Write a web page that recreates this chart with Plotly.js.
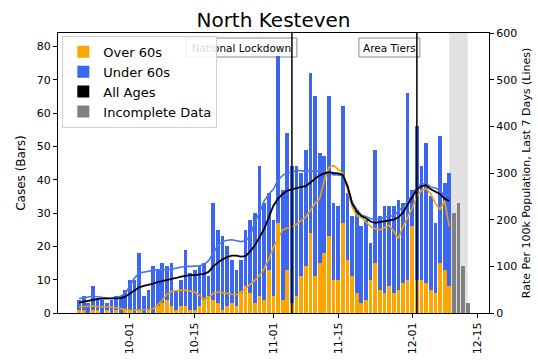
<!DOCTYPE html>
<html>
<head>
<meta charset="utf-8">
<script src="https://cdn.plot.ly/plotly-3.0.1.min.js"></script>
<style>html,body{margin:0;padding:0;background:#fff;}#chart{width:538px;height:361px;}</style>
</head>
<body>
<div id="chart"></div>
<script>
// Daily dates with complete data (Sep 20 - Dec 9, 2020)
const dates = [
 '2020-09-20','2020-09-21','2020-09-22','2020-09-23','2020-09-24','2020-09-25','2020-09-26','2020-09-27','2020-09-28','2020-09-29','2020-09-30',
 '2020-10-01','2020-10-02','2020-10-03','2020-10-04','2020-10-05','2020-10-06','2020-10-07','2020-10-08','2020-10-09','2020-10-10',
 '2020-10-11','2020-10-12','2020-10-13','2020-10-14','2020-10-15','2020-10-16','2020-10-17','2020-10-18','2020-10-19','2020-10-20',
 '2020-10-21','2020-10-22','2020-10-23','2020-10-24','2020-10-25','2020-10-26','2020-10-27','2020-10-28','2020-10-29','2020-10-30','2020-10-31',
 '2020-11-01','2020-11-02','2020-11-03','2020-11-04','2020-11-05','2020-11-06','2020-11-07','2020-11-08','2020-11-09','2020-11-10',
 '2020-11-11','2020-11-12','2020-11-13','2020-11-14','2020-11-15','2020-11-16','2020-11-17','2020-11-18','2020-11-19','2020-11-20',
 '2020-11-21','2020-11-22','2020-11-23','2020-11-24','2020-11-25','2020-11-26','2020-11-27','2020-11-28','2020-11-29','2020-11-30',
 '2020-12-01','2020-12-02','2020-12-03','2020-12-04','2020-12-05','2020-12-06','2020-12-07','2020-12-08','2020-12-09'
];
// Cases aged over 60 (bars, bottom of stack)
const over60 = [1,1,0,1,1,0,1,0,1,0,1, 1,0,1,0,1,0,2,3,4,2, 1,2,2,1,1,2,4,5,4,3, 1,2,3,2,6,8,6,3,5,4,13,
 5,27,4,13,3,5,11,14,24,11, 15,18,23,10,10,27,16,11,6,3, 4,10,15,7,6,8,6,7,9,10, 26,10,10,9,7,6,15,13,8];
// Cases aged under 60 (bars, stacked on top)
const under60 = [3,4,3,7,3,4,2,4,4,5,6, 9,10,17,5,6,14,11,12,10,13, 6,8,17,11,12,12,11,6,29,22, 22,18,13,11,10,17,22,27,39,29,23,
 23,50,33,41,41,39,31,35,48,54, 33,29,42,23,22,35,20,18,25,23, 24,11,34,22,26,24,26,27,24,56, 11,46,34,42,28,21,38,26,34];
// Incomplete data (grey bars)
const incompleteDates = ['2020-12-10','2020-12-11','2020-12-12','2020-12-13'];
const incompleteCases = [30,33,14,3];
// 7-day rates per 100k (lines)
const rateAll = [22,24,26,29,30,31,31,31,31,32,35, 42,48,55,58,60,63,66,68,71,73, 75,78,80,81,81,82,84,88,100,108, 115,120,123,123,121,122,132,145,162,180,205,
 230,245,255,262,265,268,270,272,280,289, 295,299,302,300,299,296,272,235,218,208, 203,196,193,195,197,198,200,205,215,232, 250,265,272,274,265,260,255,245,240];
const rateUnder60 = [31,33,35,36,35,33,32,31,33,36,42, 60,75,86,88,90,92,93,92,92,94, 96,98,100,100,100,101,104,112,128,145, 153,156,157,155,153,155,165,195,215,240,255,
 265,285,295,300,302,305,305,303,305,303, 305,303,300,296,296,294,275,238,222,210, 207,202,200,202,205,208,208,218,228,238, 255,270,276,278,270,268,262,250,255];
const rateOver60 = [13,14,14,15,14,14,13,13,11,9,7, 6,6,6,6,7,9,17,28,40,46, 48,49,49,47,45,38,30,33,42,45, 44,42,40,39,45,53,60,70,80,95,115,
 140,160,178,182,185,190,198,206,220,235, 245,285,312,316,308,300,265,228,208,205, 195,185,180,178,183,188,175,160,185,205, 225,250,262,267,255,235,222,240,185];
// Events
const eventDates = ['2020-11-05','2020-12-02'];
const eventLabels = ['National Lockdown','Area Tiers'];
const shadeRange = ['2020-12-09','2020-12-13'];
const xTicks = ['2020-10-01','2020-10-15','2020-11-01','2020-11-15','2020-12-01','2020-12-15'];

const ORANGE = '#FFA500', BLUE = '#3a66f2', FONT = 'DejaVu Sans, sans-serif';
const W = 538, H = 361, M = {l:58, r:49, t:33, b:48};
const xRange = ['2020-09-15 11:00','2020-12-17 14:00'];

// convert a pixel offset to a date offset along the x axis (for label boxes)
const toMs = s => Date.parse(s.replace(' ', 'T') + (s.length > 10 ? ':00Z' : 'T00:00:00Z'));
const msPerPx = (toMs(xRange[1]) - toMs(xRange[0])) / (W - M.l - M.r);
const shiftPx = (d, px) => new Date(toMs(d) + px * msPerPx).toISOString().slice(0,19).replace('T',' ');
const plotH = H - M.t - M.b;

const traces = [
  {type:'bar', x:dates, y:over60, name:'Over 60s', marker:{color:ORANGE, line:{width:0}}, yaxis:'y'},
  {type:'bar', x:dates, y:under60, name:'Under 60s', marker:{color:BLUE, line:{width:0}}, yaxis:'y'},
  // legend entry for the All Ages line (drawn as a patch, like the reference)
  {type:'bar', x:[dates[0]], y:[0], name:'All Ages', marker:{color:'#000000', line:{width:0}}, yaxis:'y'},
  {type:'bar', x:incompleteDates, y:incompleteCases, name:'Incomplete Data', marker:{color:'#808080', line:{width:0}}, yaxis:'y'},
  {type:'scatter', mode:'lines', x:dates, y:rateUnder60, yaxis:'y2', showlegend:false, line:{color:'#4a72f2', width:1.6}},
  {type:'scatter', mode:'lines', x:dates, y:rateOver60, yaxis:'y2', showlegend:false, line:{color:'#f2a000', width:1.6}},
  {type:'scatter', mode:'lines', x:dates, y:rateAll, yaxis:'y2', showlegend:false, line:{color:'#000000', width:1.8}}
];

// label box sizes in pixels (left, right) relative to the event line; top/bottom in px below the plot top
const labelBox = [[-106, 5], [-58, 3]];
const boxTop = 5, boxBottom = 24;

const shapes = [
  {type:'rect', xref:'x', yref:'paper', x0:shadeRange[0], x1:shadeRange[1], y0:0, y1:1, fillcolor:'rgba(160,160,160,0.3)', line:{width:0}, layer:'below'}
].concat(eventDates.map((d,i) => ({
  type:'rect', layer:'below', xref:'x', yref:'paper',
  x0:shiftPx(d, labelBox[i][0]), x1:shiftPx(d, labelBox[i][1]),
  y0:1 - boxBottom/plotH, y1:1 - boxTop/plotH,
  fillcolor:'#ffffff', line:{color:'#888', width:1},
  label:{text:eventLabels[i], font:{family:FONT, size:10.5, color:'#000'}, textposition:'middle center'}
}))).concat(eventDates.map(d => ({type:'line', xref:'x', yref:'paper', x0:d, x1:d, y0:0, y1:1, line:{color:'#000', width:1.5}})));

const layout = {
  width:W, height:H,
  margin:{l:M.l, r:M.r, t:M.t, b:M.b, pad:0},
  paper_bgcolor:'#fff', plot_bgcolor:'#fff',
  font:{family:FONT, size:11, color:'#000'},
  title:{text:'North Kesteven', font:{family:FONT, size:20, color:'#000'}, xref:'paper', x:0.5, xanchor:'center', y:0.945, yanchor:'middle'},
  barmode:'stack', bargap:0.2,
  showlegend:true,
  legend:{x:0.01, y:0.99, xanchor:'left', yanchor:'top', traceorder:'normal', bgcolor:'rgba(255,255,255,0.85)', bordercolor:'#d0d0d0', borderwidth:1, font:{family:FONT, size:13, color:'#000'}},
  xaxis:{type:'date', range:xRange, tickvals:xTicks, ticktext:xTicks.map(t=>t.slice(5)), tickangle:-90,
    ticks:'outside', ticklen:4, tickcolor:'#000', showline:true, linecolor:'#000', linewidth:1, mirror:true, showgrid:false, zeroline:false, tickfont:{size:11}},
  yaxis:{range:[0,84], tickvals:[0,10,20,30,40,50,60,70,80], ticks:'outside', ticklen:4, tickcolor:'#000', showline:true, linecolor:'#000', linewidth:1,
    showgrid:false, zeroline:false, title:{text:'Cases (Bars)', font:{size:12}, standoff:8}},
  yaxis2:{overlaying:'y', side:'right', range:[0,600], tickvals:[0,100,200,300,400,500,600], ticks:'outside', ticklen:4, tickcolor:'#000',
    showline:true, linecolor:'#000', linewidth:1, showgrid:false, zeroline:false, title:{text:'Rate Per 100k Population, Last 7 Days (Lines)', font:{size:11}, standoff:6}},
  shapes:shapes
};

Plotly.newPlot('chart', traces, layout, {displayModeBar:false, staticPlot:true});
</script>
</body>
</html>
